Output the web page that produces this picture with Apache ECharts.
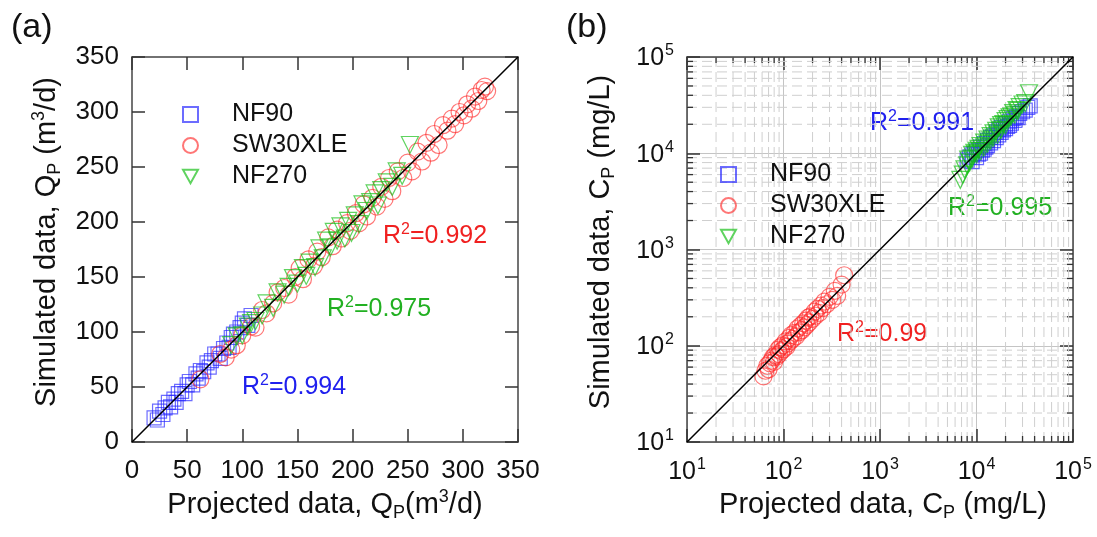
<!DOCTYPE html>
<html>
<head>
<meta charset="utf-8">
<script src="https://cdn.jsdelivr.net/npm/echarts@6/dist/echarts.min.js"></script>
<style>
html,body{margin:0;padding:0;background:#fff;}
#chart{width:1097px;height:537px;}
</style>
</head>
<body>
<div id="chart"></div>
<script>
// ---------------- DATA ----------------
const seriesNames = ['NF90', 'SW30XLE', 'NF270'];

// Panel (a): flow rate Qp (m3/d), [projected, simulated]
const qNF90 = [[20,22],[23,20],[25,28],[28,25],[30,31],[33,36],[35,32],[38,39],[40,36],[42,44],[45,46],[48,44],[50,52],[52,55],[55,52],[58,62],[60,58],[62,65],[65,64],[68,72],[70,68],[72,74],[75,80],[78,80],[80,76],[83,85],[86,90],[88,86],[90,95],[92,98],[95,100],[98,104],[100,108],[102,112],[105,106],[108,115]];
const qSW30XLE = [[62,57],[80,80],[85,77],[90,84],[95,88],[100,97],[108,105],[112,104],[118,120],[122,117],[128,126],[132,136],[138,140],[142,134],[148,150],[152,158],[155,148],[160,166],[165,160],[168,173],[172,168],[178,186],[182,178],[186,193],[190,185],[195,199],[198,192],[203,208],[206,199],[210,216],[213,205],[218,222],[222,214],[226,232],[229,221],[233,240],[236,228],[241,246],[246,240],[250,254],[254,246],[259,264],[263,255],[267,272],[271,263],[274,280],[278,270],[282,288],[286,283],[290,294],[293,289],[297,300],[301,297],[304,307],[308,303],[311,314],[314,310],[317,320],[320,323],[322,319]];
const qNF270 = [[90,88],[95,96],[100,97],[105,105],[108,108],[112,110],[118,115],[122,126],[128,122],[132,136],[138,134],[142,141],[146,149],[150,144],[155,158],[158,151],[161,163],[166,159],[170,176],[173,167],[176,183],[180,177],[183,191],[186,183],[189,196],[193,185],[196,201],[199,190],[202,206],[206,198],[209,216],[213,210],[216,218],[220,226],[223,215],[226,229],[231,236],[236,232],[240,246],[245,242],[252,270]];
const diagA = [[0, 0], [350, 350]];

// Panel (b): concentration Cp (mg/L), [projected, simulated]
const cSW30XLE = [[62,48],[65,55],[68,62],[70,57],[72,66],[75,70],[78,76],[80,68],[82,80],[85,77],[88,91],[90,82],[92,96],[95,88],[98,101],[100,92],[105,111],[108,98],[110,105],[115,121],[118,112],[120,129],[125,118],[130,136],[135,125],[140,151],[145,138],[150,161],[155,145],[160,171],[165,155],[170,182],[175,165],[180,196],[185,175],[190,202],[200,190],[210,226],[215,205],[225,242],[235,220],[245,262],[255,246],[265,287],[280,270],[300,322],[320,300],[340,372],[360,330],[400,432],[425,540]];
const cNF90 = [[8000,8500],[8500,9100],[9000,9600],[9000,8200],[9500,10000],[10000,9000],[10000,10600],[10500,9800],[11000,11600],[11000,10000],[11500,10800],[12000,12600],[12000,11000],[12500,11600],[13000,13600],[13000,12000],[14000,14600],[14000,12800],[15000,15200],[15000,13500],[16000,16600],[16000,14500],[17000,15500],[17000,17600],[18000,16500],[18000,18600],[19000,17500],[20000,20200],[20000,18000],[21000,19000],[22000,21500],[22000,19500],[23000,20500],[24000,23000],[25000,22000],[26000,24000],[27000,23500],[28000,26000],[30000,27000],[32000,28000],[34000,30000],[36000,31000]];
const cNF270 = [[6800,5300],[7200,6000],[7500,6800],[8000,7500],[8200,8600],[8500,8000],[9000,9600],[9000,8800],[9500,10100],[10000,10600],[10000,9800],[10500,11100],[11000,11900],[11000,10500],[12000,12900],[12000,11500],[13000,13900],[13000,12500],[14000,15100],[14000,13500],[15000,16100],[15000,14500],[16000,17100],[16500,15500],[17000,18600],[18000,17500],[18000,19600],[19000,20100],[20000,21600],[20000,19500],[21000,22600],[22000,23600],[23000,24100],[24000,26100],[25000,25100],[26000,28100],[27000,27600],[28000,30100],[30000,32100],[32000,33100],[35000,42000]];
const diagB = [[10, 10], [100000, 100000]];

// Minor tick values for the log axes
const logMinor = [20,30,40,50,60,70,80,90,200,300,400,500,600,700,800,900,2000,3000,4000,5000,6000,7000,8000,9000,20000,30000,40000,50000,60000,70000,80000,90000];

// R² annotations
const r2A = [['0.992', '#f02020'], ['0.975', '#22b022'], ['0.994', '#2020ee']];
const r2B = [['0.991', '#2020ee'], ['0.995', '#22b022'], ['0.99', '#f02020']];

// ---------------- STYLE ----------------
const FONT = "'Liberation Sans', Arial, sans-serif";
const BLUE = 'rgba(40,40,255,0.85)';
const RED = 'rgba(255,40,40,0.8)';
const GREEN = 'rgba(20,190,20,0.85)';
const TRI = 'path://M0,0L10,0L5,9Z';

const chart = echarts.init(document.getElementById('chart'), null, {renderer: 'canvas'});

const gridA = {left: 132, top: 57, width: 386, height: 385};
const gridB = {left: 687, top: 57, width: 386, height: 385};

function linAxis(pos, gridIndex, show) {
  const horiz = pos === 'bottom' || pos === 'top';
  return {
    type: 'value', gridIndex, position: pos, min: 0, max: 350, interval: 50,
    axisLine: {show: true, onZero: false, lineStyle: {color: '#444', width: 1.5}},
    axisTick: {show: true, inside: true, length: 13, lineStyle: {color: '#333', width: 1.5}},
    axisLabel: {show: show, fontFamily: FONT, fontSize: 26, color: '#111', margin: horiz ? 16 : 13},
    splitLine: {show: false}
  };
}
function supFmt(v) {
  const e = Math.round(Math.log10(v));
  return '{b|10}{s|' + e + '}';
}
function logAxis(pos, gridIndex, show) {
  const horiz = pos === 'bottom' || pos === 'top';
  return {
    type: 'log', logBase: 10, gridIndex, position: pos, min: 10, max: 100000,
    axisLine: {show: true, onZero: false, lineStyle: {color: '#444', width: 1.5}},
    axisTick: {show: true, inside: true, length: 13, lineStyle: {color: '#333', width: 1.5}},
    axisLabel: {show: show, margin: horiz ? 15 : 13, formatter: supFmt,
      rich: {
        b: {fontFamily: FONT, fontSize: 25, color: '#111', lineHeight: 28, verticalAlign: 'bottom'},
        s: {fontFamily: FONT, fontSize: 16, color: '#111', lineHeight: 28, verticalAlign: 'top', padding: [0,0,9,1]}
      }},
    splitLine: {show: show && (pos === 'bottom' || pos === 'left'), lineStyle: {color: '#c4c4c4', width: 1}}
  };
}

function scatter(name, data, xi, yi, symbol, size, color) {
  return {
    type: 'scatter', name, data, xAxisIndex: xi, yAxisIndex: yi,
    symbol, symbolSize: size, z: 3,
    itemStyle: {color: 'rgba(0,0,0,0)', borderColor: color, borderWidth: 1.2},
    emphasis: {disabled: true}
  };
}

function minorRender(params, api) {
  const v = api.value(0);
  const cs = params.coordSys;
  const px = api.coord([v, 10])[0];
  const py = api.coord([10, v])[1];
  const x0 = cs.x, x1 = cs.x + cs.width, y0 = cs.y, y1 = cs.y + cs.height;
  const dash = {stroke: '#cfcfcf', lineWidth: 1, lineDash: [10, 5]};
  const tick = {stroke: '#333', lineWidth: 1.3};
  return {
    type: 'group', children: [
      {type: 'line', shape: {x1: px, y1: y0, x2: px, y2: y1}, style: dash, silent: true},
      {type: 'line', shape: {x1: x0, y1: py, x2: x1, y2: py}, style: dash, silent: true},
      {type: 'line', shape: {x1: px, y1: y1, x2: px, y2: y1 - 6}, style: tick, silent: true},
      {type: 'line', shape: {x1: px, y1: y0, x2: px, y2: y0 + 6}, style: tick, silent: true},
      {type: 'line', shape: {x1: x0, y1: py, x2: x0 + 6, y2: py}, style: tick, silent: true},
      {type: 'line', shape: {x1: x1, y1: py, x2: x1 - 6, y2: py}, style: tick, silent: true}
    ]
  };
}

const rich = {
  t: {fontFamily: FONT, fontSize: 29, fill: '#111', lineHeight: 34, verticalAlign: 'middle'},
  sub: {fontFamily: FONT, fontSize: 18, fill: '#111', lineHeight: 34, verticalAlign: 'bottom'},
  sup: {fontFamily: FONT, fontSize: 18, fill: '#111', lineHeight: 34, verticalAlign: 'top'}
};
function r2Rich(color) {
  return {
    a: {fontFamily: FONT, fontSize: 25, fill: color, lineHeight: 30},
    s: {fontFamily: FONT, fontSize: 16, fill: color, lineHeight: 30, verticalAlign: 'top', padding: [1,0,0,0]}
  };
}
function r2Text(item, x, y) {
  return {type: 'text', x, y, silent: true, style: {
    text: '{a|R}{s|2}{a|=' + item[0] + '}', rich: r2Rich(item[1]), align: 'left', verticalAlign: 'middle'}};
}

const option = {
  backgroundColor: '#fff',
  animation: false,
  grid: [gridA, gridB],
  xAxis: [linAxis('bottom', 0, true), linAxis('top', 0, false), logAxis('bottom', 1, true), logAxis('top', 1, false)],
  yAxis: [linAxis('left', 0, true), linAxis('right', 0, false), logAxis('left', 1, true), logAxis('right', 1, false)],
  legend: [
    {data: seriesNames, orient: 'vertical', left: 182, top: 102, padding: 0, itemWidth: 15, itemHeight: 15, itemGap: 6,
     selectedMode: false, textStyle: {fontFamily: FONT, fontSize: 25, color: '#111', lineHeight: 25, padding: [0,0,0,29]}},
    {data: seriesNames, orient: 'vertical', left: 720, top: 162, padding: 0, itemWidth: 15, itemHeight: 15, itemGap: 6,
     selectedMode: false, textStyle: {fontFamily: FONT, fontSize: 25, color: '#111', lineHeight: 25, padding: [0,0,0,29]}}
  ],
  series: [
    {type: 'custom', xAxisIndex: 2, yAxisIndex: 2, data: logMinor.map(v => [v]), renderItem: minorRender, clip: false, z: 1, silent: true},
    scatter('NF90', qNF90, 0, 0, 'rect', 14, BLUE),
    scatter('SW30XLE', qSW30XLE, 0, 0, 'circle', 17, RED),
    scatter('NF270', qNF270, 0, 0, TRI, 17, GREEN),
    {type: 'line', data: diagA, xAxisIndex: 0, yAxisIndex: 0, symbol: 'none', z: 4, silent: true,
     lineStyle: {color: '#000', width: 1.5}},
    scatter('NF90', cNF90, 2, 2, 'rect', 14, BLUE),
    scatter('SW30XLE', cSW30XLE, 2, 2, 'circle', 17, RED),
    scatter('NF270', cNF270, 2, 2, TRI, 17, GREEN),
    {type: 'line', data: diagB, xAxisIndex: 2, yAxisIndex: 2, symbol: 'none', z: 4, silent: true,
     lineStyle: {color: '#000', width: 1.5}}
  ],
  graphic: [
    {type: 'text', left: 11, top: 11, style: {text: '(a)', fontFamily: FONT, fontSize: 34, fill: '#111'}},
    {type: 'text', left: 566, top: 11, style: {text: '(b)', fontFamily: FONT, fontSize: 34, fill: '#111'}},
    {type: 'text', x: 325, y: 505, silent: true, style: {text: '{t|Projected data, Q}{sub|P}{t|(m}{sup|3}{t|/d)}', rich, align: 'center', verticalAlign: 'middle'}},
    {type: 'text', x: 883, y: 505, silent: true, style: {text: '{t|Projected data, C}{sub|P}{t| (mg/L)}', rich, align: 'center', verticalAlign: 'middle'}},
    {type: 'text', x: 47, y: 242, rotation: Math.PI / 2, silent: true, style: {text: '{t|Simulated data, Q}{sub|P}{t| (m}{sup|3}{t|/d)}', rich, align: 'center', verticalAlign: 'middle'}},
    {type: 'text', x: 601, y: 242, rotation: Math.PI / 2, silent: true, style: {text: '{t|Simulated data, C}{sub|P}{t| (mg/L)}', rich, align: 'center', verticalAlign: 'middle'}},
    r2Text(r2A[0], 383, 236),
    r2Text(r2A[1], 327, 309),
    r2Text(r2A[2], 242, 387),
    r2Text(r2B[0], 870, 123),
    r2Text(r2B[1], 948, 208),
    r2Text(r2B[2], 837, 334)
  ]
};
chart.setOption(option);
</script>
</body>
</html>
